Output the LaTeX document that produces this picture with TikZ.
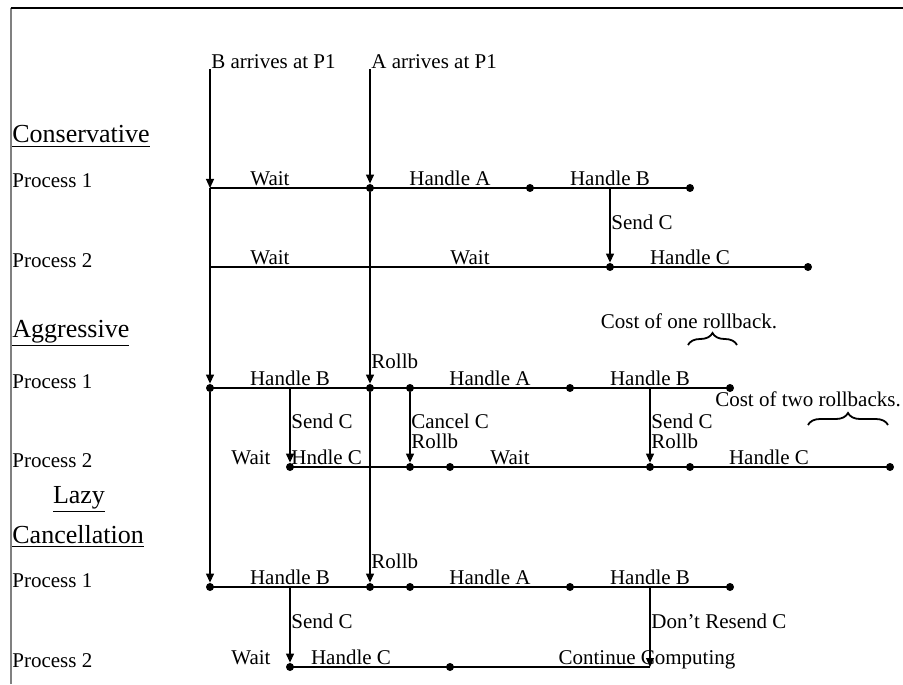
\documentclass[tikz,border=0pt]{standalone}
\usepackage{fontspec}
\setmainfont{Liberation Serif}
\usepackage{tikz}
\usetikzlibrary{arrows.meta, decorations.pathreplacing}

\begin{document}
\begin{tikzpicture}[
  x=0.5pt, y=-0.5pt,
  font=\fontsize{10.5}{12}\selectfont,
  lbl/.style={inner sep=0pt, anchor=base},
  note/.style={inner sep=0pt, anchor=base west},
  hdr/.style={inner sep=0pt, anchor=base west, font=\fontsize{13}{16}\selectfont},
  ev/.style={circle, fill, inner sep=0pt, minimum size=4pt},
  tline/.style={line width=0.6pt},
  msg/.style={-{Triangle[length=4.5pt,width=4pt]}, line width=0.6pt},
  cost/.style={decorate, decoration={brace, amplitude=6pt}, line width=0.9pt}
]
  \useasboundingbox (0,0) rectangle (903,684);
  % frame
  \draw[black!50, line width=1pt] (11,684) -- (11,8);
  \draw[line width=0.6pt] (10.5,8) -- (903,8);

  % arrivals
  \coordinate (bTop) at (210,69);
  \coordinate (aTop) at (370,69);
  \node[note] (bArr) at ([xshift=0.5pt]bTop) {B arrives at P1};
  \node[note] (aArr) at ([xshift=0.5pt]aTop) {A arrives at P1};

  % ---------------- Conservative
  \node[hdr] (cons) at (12,143) {\underline{Conservative}};
  \node[note] (cP1) at (12,188) {Process 1};
  \node[note] (cP2) at (12,267) {Process 2};

  \coordinate (c1s) at (210,188);
  \node[ev] (c1a) at (370,188) {};
  \node[ev] (c1b) at (530,188) {};
  \coordinate (c1c) at (610,188);
  \node[ev] (c1e) at (690,188) {};
  \coordinate (c2s) at (210,267);
  \node[ev] (c2c) at (610,267) {};
  \node[ev] (c2e) at (808,267) {};

  \draw[tline] (c1s) -- (c1e.center);
  \draw[tline] (c2s) -- (c2e.center);
  \draw[msg] (c1c) -- (c2c);

  \node[lbl] (cW1) at (270,185) {Wait};
  \node[lbl] (cHA) at (450,185) {Handle A};
  \node[lbl] (cHB) at (610,185) {Handle B};
  \node[note] (cSC) at (611,229) {Send C};
  \node[lbl] (cW2) at (270,264) {Wait};
  \node[lbl] (cW3) at (470,264) {Wait};
  \node[lbl] (cHC) at (690,264) {Handle C};

  % ---------------- Aggressive
  \node[hdr] (aggr) at (12,337) {\underline{Aggressive}};
  \node[note] (aP1) at (12,388) {Process 1};
  \node[note] (aP2) at (12,467) {Process 2};

  \node[ev] (a1B) at (210,388) {};
  \coordinate (a1c) at (290,388);
  \node[ev] (a1A) at (370,388) {};
  \node[ev] (a1r) at (410,388) {};
  \node[ev] (a1h) at (570,388) {};
  \coordinate (a1d) at (650,388);
  \node[ev] (a1e) at (730,388) {};
  \node[ev] (a2c) at (290,467) {};
  \node[ev] (a2x) at (410,467) {};
  \node[ev] (a2w) at (450,467) {};
  \node[ev] (a2r) at (650,467) {};
  \node[ev] (a2h) at (690,467) {};
  \node[ev] (a2e) at (890,467) {};

  \draw[tline] (a1B.center) -- (a1e.center);
  \draw[tline] (a2c.center) -- (a2e.center);
  \draw[msg] (a1c) -- (a2c);
  \draw[msg] (a1r) -- (a2x);
  \draw[msg] (a1d) -- (a2r);

  \node[lbl] (aHB) at (290,385) {Handle B};
  \node[note] (aRb) at (371,368) {Rollb};
  \node[lbl] (aHA) at (490,385) {Handle A};
  \node[lbl] (aHB2) at (650,385) {Handle B};
  \node[note] (aSC) at (291,428) {Send C};
  \node[note] (aCC) at (411,428) {Cancel C};
  \node[note] (aCR) at (411,448) {Rollb};
  \node[note] (aSR) at (651,428) {Send C};
  \node[note] (aSR2) at (651,448) {Rollb};
  \node[lbl] (aW1) at (251,464) {Wait};
  \node[note] (aHC) at (291,464) {Hndle C};
  \node[lbl] (aW2) at (510,464) {Wait};
  \node[lbl] (aHC2) at (769,464) {Handle C};

  \node[lbl] (one) at (689,328) {Cost of one rollback.};
  \coordinate (one-l) at (688,345);
  \coordinate (one-r) at (737,345);
  \draw[cost] (one-l) -- (one-r);
  \node[lbl] (two) at (808,406) {Cost of two rollbacks.};
  \coordinate (two-l) at (808,425);
  \coordinate (two-r) at (888,425);
  \draw[cost] (two-l) -- (two-r);

  % ---------------- Lazy cancellation
  \node[hdr, anchor=base] (lazy) at (79,503) {\underline{Lazy}};
  \node[hdr] (canc) at (12,543) {\underline{Cancellation}};
  \node[note] (lP1) at (12,587) {Process 1};
  \node[note] (lP2) at (12,667) {Process 2};

  \node[ev] (l1B) at (210,587) {};
  \coordinate (l1c) at (290,587);
  \node[ev] (l1A) at (370,587) {};
  \node[ev] (l1r) at (410,587) {};
  \node[ev] (l1h) at (570,587) {};
  \coordinate (l1d) at (650,587);
  \node[ev] (l1e) at (730,587) {};
  \node[ev] (l2c) at (290,667) {};
  \node[ev] (l2w) at (450,667) {};
  \coordinate (l2m) at (490,667);
  \coordinate (l2e) at (650,667);

  \draw[tline] (l1B.center) -- (l1e.center);
  \draw[tline] (l2c.center) -- (l2e);
  \draw[line width=1pt] (l2w.center) -- (l2m);
  \draw[msg] (l1c) -- (l2c);
  \draw[msg] (l1d) -- (l2e);

  \node[lbl] (lHB) at (290,584) {Handle B};
  \node[note] (lRb) at (371,568) {Rollb};
  \node[lbl] (lHA) at (490,584) {Handle A};
  \node[lbl] (lHB2) at (650,584) {Handle B};
  \node[note] (lSC) at (291,628) {Send C};
  \node[note] (lDR) at (651,628) {Don't Resend C};
  \node[lbl] (lW1) at (251,664) {Wait};
  \node[lbl] (lHC) at (351,664) {Handle C};
  \node[lbl] (lCC) at (647,664) {Continue Computing};

  % arrivals down through all three schemes
  \draw[msg] (bTop) -- (c1s);
  \draw[msg] (c1s) -- (a1B);
  \draw[msg] (a1B) -- (l1B);
  \draw[msg] (aTop) -- (c1a);
  \draw[msg] (c1a) -- (a1A);
  \draw[msg] (a1A) -- (l1A);
\end{tikzpicture}
\end{document}
